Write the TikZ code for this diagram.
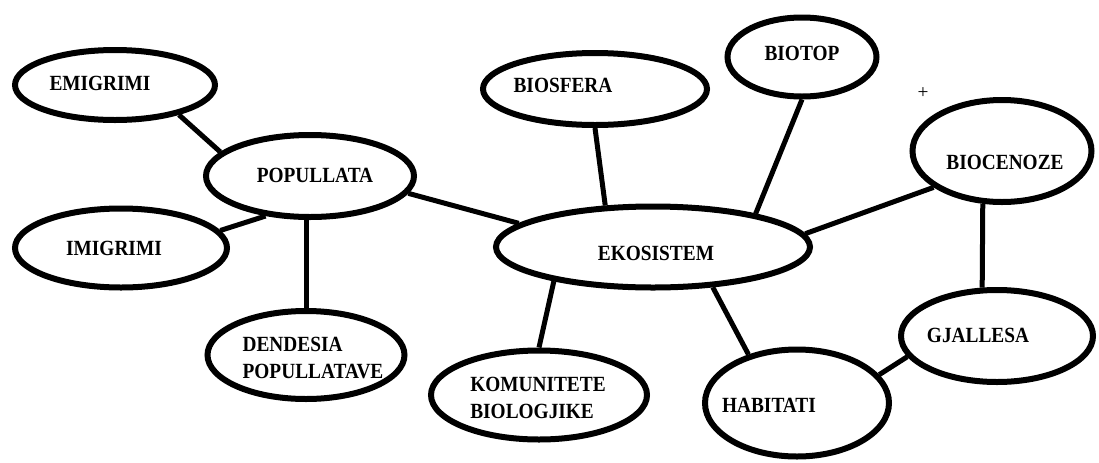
\documentclass[tikz,border=0pt]{standalone}
\usepackage{fontspec}
\setmainfont{Liberation Serif}
\usepackage{tikz}
\usetikzlibrary{shapes.geometric}

\tikzset{
    eco/.style={ellipse, draw, line width=1.2mm, inner sep=0pt},
    lbl/.style={font=\fontsize{11}{13.5}\selectfont\bfseries, align=left, inner sep=0pt, yscale=1.12, transform shape},
    link/.style={line width=1mm}
}

\begin{document}
\begin{tikzpicture}[x=0.2mm, y=-0.2mm]
    \useasboundingbox (0, 0) rectangle (1099, 462);

    % left group
    \node[eco, minimum width=40mm, minimum height=14mm] (emig) at (115, 85) {};
    \node[lbl] (emigtxt) at (100, 83) {EMIGRIMI};
    \node[eco, minimum width=41.6mm, minimum height=16.4mm] (pop) at (310, 176) {};
    \node[lbl] (poptxt) at (315, 175) {POPULLATA};
    \node[eco, minimum width=42.4mm, minimum height=15.8mm] (imig) at (121, 248) {};
    \node[lbl] (imigtxt) at (114, 248) {IMIGRIMI};
    \node[eco, minimum width=39.4mm, minimum height=17.6mm] (dend) at (306, 355) {};
    \node[lbl] (dendtxt) at (313, 358) {DENDESIA\\POPULLATAVE};

    % centre and top
    \node[eco, minimum width=62.8mm, minimum height=16.2mm] (eko) at (653, 247) {};
    \node[lbl] (ekotxt) at (656, 253) {EKOSISTEM};
    \node[eco, minimum width=44.8mm, minimum height=14.4mm] (bsf) at (595, 89) {};
    \node[lbl] (bsftxt) at (563, 85) {BIOSFERA};
    \node[eco, minimum width=29.8mm, minimum height=15.8mm] (btp) at (802, 57) {};
    \node[lbl] (btptxt) at (802, 53) {BIOTOP};
    \node[eco, minimum width=43.2mm, minimum height=17.8mm] (kom) at (539, 395) {};
    \node[lbl] (komtxt) at (538, 398) {KOMUNITETE\\BIOLOGJIKE};

    % right group
    \node[eco, minimum width=35.8mm, minimum height=20.4mm] (bcn) at (1002, 151) {};
    \node[lbl] (bcntxt) at (1005, 162) {BIOCENOZE};
    \node[eco, minimum width=38.4mm, minimum height=18.4mm] (gja) at (997, 336) {};
    \node[lbl] (gjatxt) at (978, 335) {GJALLESA};
    \node[eco, minimum width=36.8mm, minimum height=21.4mm] (hab) at (797, 403) {};
    \node[lbl] (habtxt) at (769, 405) {HABITATI};

    \node[font=\fontsize{11}{13}\selectfont, inner sep=0pt] (plus) at (923, 93) {+};

    % links
    \draw[link] (emig.-25) -- (pop.165);
    \draw[link] (imig.10) -- (pop.222);
    \draw[link] (dend.north) -- (dend.north |- pop.south);
    \draw[link] (pop.-10) -- (eko.170);
    \draw[link] (bsf.south) -- (eko.139);
    \draw[link] (btp.south) -- (eko.18);
    \draw[link] (eko.5) -- (bcn.208);
    \draw[link] (bcn.-110) -- (gja.107);
    \draw[link] (eko.-34) -- (hab.135);
    \draw[link] (hab.19) -- (gja.193);
    \draw[link] (eko.199) -- (kom.north);
\end{tikzpicture}
\end{document}
